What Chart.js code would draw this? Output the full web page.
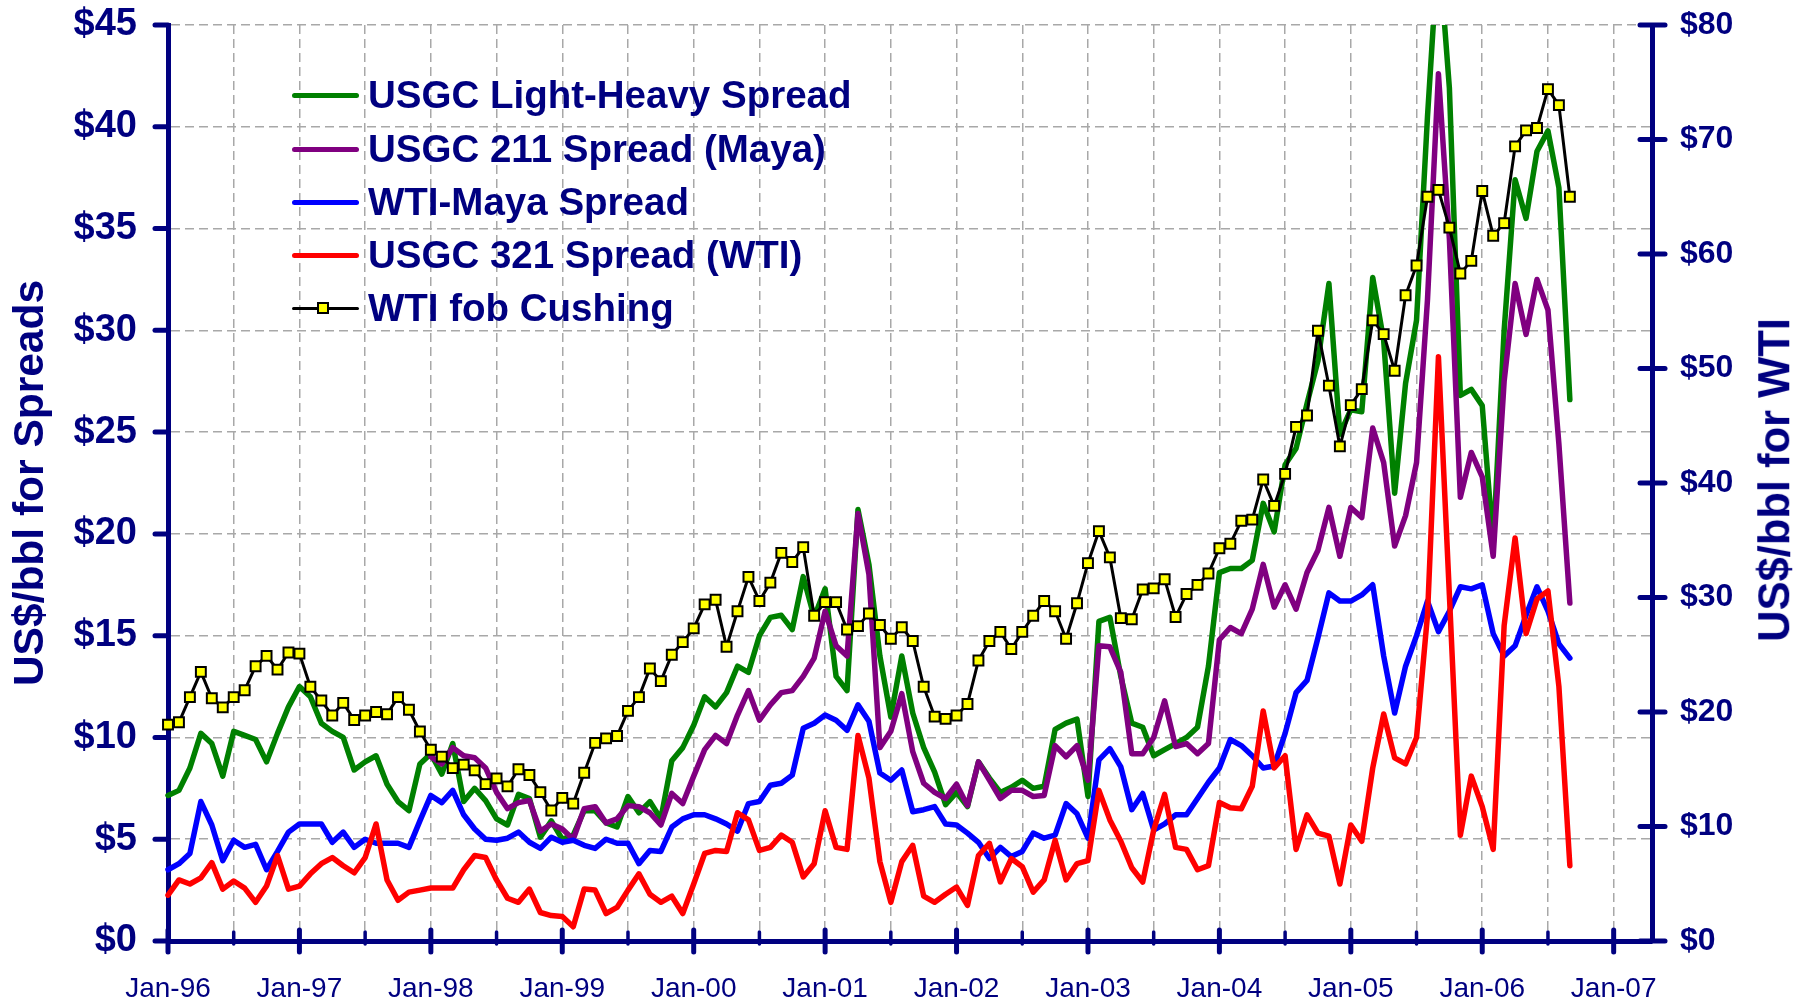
<!DOCTYPE html>
<html>
<head>
<meta charset="utf-8">
<script src="https://cdn.jsdelivr.net/npm/chart.js@4.4.1/dist/chart.umd.min.js"></script>
<style>
  html, body { margin: 0; padding: 0; background: #ffffff; }
  #wrap { position: relative; width: 1808px; height: 1003px; overflow: hidden; background: #fff; }
  #c { position: absolute; left: 0; top: 0; }
  .lrow { position: absolute; left: 292px; height: 50px; display: flex; align-items: center; white-space: nowrap;
          font-family: "Liberation Sans", Arial, sans-serif; font-weight: bold; font-size: 38.5px; color: #000080; }
  .smp { position: relative; width: 67px; height: 50px; flex: none; }
  .smp .ln { position: absolute; left: 0; width: 67px; top: 50%; }
  .smp .mk { position: absolute; box-sizing: border-box; width: 12px; height: 12px; border: 2px solid #000; background: #FFFF00; top: 50%; margin-top: -6px; left: 25px; }
  .ltxt { margin-left: 9px; line-height: 1.15; }
  #rtitle { position: absolute; left: 1775px; top: 480px; transform: translate(-50%, -50%) rotate(-90deg);
            white-space: nowrap; font-family: "Liberation Sans", Arial, sans-serif; font-weight: bold; font-size: 43.5px;
            line-height: 1; color: #000080; }
</style>
</head>
<body>
<div id="wrap">
  <canvas id="c" width="1808" height="1003"></canvas>
  <div id="legend"></div>
  <div id="rtitle">US$/bbl for WTI</div>
</div>
<script>
// ---------------- DATA (monthly, Jan-96 .. Sep-06) ----------------
const xTickLabels = ['Jan-96','Jan-97','Jan-98','Jan-99','Jan-00','Jan-01','Jan-02','Jan-03','Jan-04','Jan-05','Jan-06','Jan-07'];
const leftTicks = [0, 5, 10, 15, 20, 25, 30, 35, 40, 45];
const leftTickLabels = ['$0','$5','$10','$15','$20','$25','$30','$35','$40','$45'];
const rightTicks = [0, 10, 20, 30, 40, 50, 60, 70, 80];
const rightTickLabels = ['$0','$10','$20','$30','$40','$50','$60','$70','$80'];

const seriesNames = ['USGC Light-Heavy Spread', 'USGC 211 Spread (Maya)', 'WTI-Maya Spread', 'USGC 321 Spread (WTI)', 'WTI fob Cushing'];

// USGC Light-Heavy Spread ($/bbl, left axis)
const lightHeavy = [
  7.15, 7.4, 8.5, 10.2, 9.7, 8.1, 10.3, 10.1, 9.9, 8.8, 10.2, 11.5,
  12.5, 12.0, 10.7, 10.3, 10.0, 8.4, 8.8, 9.1, 7.7, 6.85, 6.4, 8.7,
  9.2, 8.2, 9.7, 6.85, 7.5, 6.9, 6.0, 5.7, 7.2, 7.0, 5.1, 5.9,
  5.0, 5.2, 6.4, 6.4, 5.8, 5.6, 7.1, 6.3, 6.85, 6.0, 8.85, 9.5,
  10.6, 12.0, 11.5, 12.2, 13.5, 13.2, 15.0, 15.9, 16.0, 15.3, 17.9, 15.9,
  17.3, 13.0, 12.3, 21.2, 18.5, 14.0, 11.0, 14.0, 11.2, 9.5, 8.3, 6.7,
  7.3, 6.6, 8.8, 8.0, 7.3, 7.55, 7.9, 7.5, 7.6, 10.4, 10.7, 10.9,
  7.1, 15.7, 15.9, 13.0, 10.7, 10.5, 9.1, 9.4, 9.7, 10.0, 10.5, 13.5,
  18.1, 18.3, 18.3, 18.7, 21.5, 20.1, 23.4, 24.2, 26.4, 28.5, 32.3, 24.9,
  26.1, 26.0, 32.6, 29.5, 22.0, 27.4, 30.5, 40.5, 49.0, 41.9, 26.8, 27.1,
  26.3, 19.5, 30.0, 37.4, 35.5, 38.8, 39.8, 37.0, 26.6
];

// USGC 211 Spread (Maya) ($/bbl, left axis) - series starts Jan-98
const spread211 = [
  null, null, null, null, null, null, null, null, null, null, null, null,
  null, null, null, null, null, null, null, null, null, null, null, null,
  9.05, 8.7, 9.5, 9.1, 9.0, 8.5, 7.3, 6.5, 6.8, 6.9, 5.4, 5.75,
  5.5, 5.0, 6.5, 6.6, 5.8, 6.0, 6.65, 6.6, 6.3, 5.7, 7.25, 6.75,
  8.1, 9.4, 10.1, 9.7, 11.1, 12.3, 10.85, 11.6, 12.2, 12.3, 13.0, 13.9,
  16.2, 14.5, 14.0, 21.0, 18.0, 9.5, 10.3, 12.15, 9.3, 7.75, 7.3, 7.0,
  7.7, 6.65, 8.8, 7.9, 7.0, 7.4, 7.4, 7.1, 7.15, 9.6, 9.05, 9.6,
  7.9, 14.5, 14.45, 13.2, 9.2, 9.2, 10.0, 11.8, 9.55, 9.7, 9.2, 9.7,
  14.8, 15.4, 15.1, 16.3, 18.5, 16.4, 17.5, 16.3, 18.1, 19.2, 21.3, 18.9,
  21.3, 20.8, 25.2, 23.5, 19.4, 20.9, 23.5, 31.5, 42.6, 34.5, 21.8, 24.0,
  22.8, 18.9, 27.5, 32.3, 29.8, 32.5, 31.0, 24.4, 16.6
];

// WTI-Maya Spread ($/bbl, left axis)
const wtiMaya = [
  3.5, 3.8, 4.3, 6.85, 5.7, 3.95, 4.95, 4.6, 4.75, 3.5, 4.4, 5.35,
  5.75, 5.75, 5.75, 4.85, 5.35, 4.6, 5.0, 4.8, 4.8, 4.8, 4.6, 5.9,
  7.15, 6.8, 7.4, 6.2, 5.5, 5.0, 4.95, 5.05, 5.35, 4.85, 4.55, 5.1,
  4.85, 4.95, 4.7, 4.55, 5.0, 4.8, 4.8, 3.8, 4.45, 4.4, 5.6, 6.0,
  6.2, 6.2, 6.0, 5.75, 5.4, 6.75, 6.85, 7.65, 7.75, 8.15, 10.45, 10.7,
  11.1, 10.85, 10.35, 11.6, 10.8, 8.25, 7.9, 8.4, 6.35, 6.45, 6.6, 5.75,
  5.7, 5.3, 4.85, 4.05, 4.6, 4.15, 4.4, 5.3, 5.05, 5.2, 6.75, 6.25,
  5.05, 8.9, 9.45, 8.55, 6.45, 7.25, 5.45, 5.75, 6.2, 6.2, 7.0, 7.8,
  8.5, 9.9, 9.6, 9.1, 8.5, 8.6, 10.2, 12.2, 12.8, 14.9, 17.1, 16.7,
  16.7, 17.0, 17.5, 14.0, 11.2, 13.5, 15.0, 16.7, 15.2, 16.2, 17.4, 17.3,
  17.5, 15.1, 14.0, 14.5, 16.0, 17.4, 16.2, 14.6, 13.9
];

// USGC 321 Spread (WTI) ($/bbl, left axis)
const spread321 = [
  2.25, 3.0, 2.8, 3.1, 3.85, 2.55, 2.95, 2.6, 1.9, 2.7, 4.2, 2.55,
  2.7, 3.3, 3.8, 4.1, 3.7, 3.35, 4.1, 5.75, 3.0, 2.0, 2.4, 2.5,
  2.6, 2.6, 2.6, 3.5, 4.2, 4.1, 3.0, 2.1, 1.9, 2.55, 1.4, 1.25,
  1.2, 0.7, 2.55, 2.5, 1.35, 1.65, 2.5, 3.3, 2.3, 1.9, 2.2, 1.35,
  2.8, 4.3, 4.45, 4.4, 6.3, 5.95, 4.45, 4.6, 5.2, 4.85, 3.15, 3.8,
  6.4, 4.6, 4.5, 10.1, 8.0, 3.9, 1.9, 3.9, 4.7, 2.2, 1.9, 2.3,
  2.65, 1.75, 4.2, 4.8, 2.9, 4.05, 3.65, 2.4, 3.0, 4.95, 3.0, 3.8,
  3.95, 7.4, 5.95, 4.9, 3.6, 2.9, 5.45, 7.2, 4.6, 4.5, 3.5, 3.7,
  6.8, 6.55, 6.5, 7.6, 11.3, 8.5, 9.1, 4.5, 6.2, 5.3, 5.15, 2.8,
  5.7, 4.9, 8.5, 11.15, 9.0, 8.7, 10.0, 16.0, 28.7, 17.0, 5.2, 8.1,
  6.6, 4.5, 15.5, 19.8, 15.1, 16.8, 17.2, 12.5, 3.7
];

// WTI fob Cushing ($/bbl, right axis)
const wtiCushing = [
  18.9, 19.1, 21.3, 23.5, 21.2, 20.4, 21.3, 21.9, 24.0, 24.9, 23.7, 25.2,
  25.1, 22.2, 21.0, 19.7, 20.8, 19.3, 19.7, 20.0, 19.8, 21.3, 20.2, 18.3,
  16.7, 16.1, 15.1, 15.4, 14.9, 13.7, 14.2, 13.5, 15.0, 14.5, 13.0, 11.4,
  12.5, 12.0, 14.7, 17.3, 17.7, 17.9, 20.1, 21.3, 23.8, 22.7, 25.0, 26.1,
  27.3, 29.4, 29.8, 25.7, 28.8, 31.8, 29.7, 31.3, 33.9, 33.1, 34.4, 28.4,
  29.6, 29.6, 27.2, 27.5, 28.6, 27.6, 26.4, 27.4, 26.2, 22.2, 19.6, 19.4,
  19.7, 20.7, 24.5, 26.2, 27.0, 25.5, 27.0, 28.4, 29.7, 28.8, 26.4, 29.5,
  33.0, 35.8, 33.5, 28.2, 28.1, 30.7, 30.8, 31.6, 28.3, 30.3, 31.1, 32.1,
  34.3, 34.7, 36.7, 36.8, 40.3, 38.0, 40.8, 44.9, 45.9, 53.3, 48.5, 43.2,
  46.8, 48.2, 54.2, 53.0, 49.8, 56.4, 59.0, 65.0, 65.6, 62.3, 58.3, 59.4,
  65.5, 61.6, 62.7, 69.4, 70.8, 71.0, 74.4, 73.0, 65.0
];

// ---------------- STYLE ----------------
const NAVY = '#000080';
const FONT = '"Liberation Sans", Arial, Helvetica, sans-serif';
const GRID = '#a8a8a8';
const X_MAX = 135.5;                         // axis ends ~mid-May 2007
const xGridMonths = [];
for (let m = 0; m <= 132; m += 6) xGridMonths.push(m);

Chart.defaults.font.family = FONT;

const toXY = arr => arr.map((v, i) => ({ x: i, y: v }));

const lineStyle = (label, data, color, order) => ({
  label, data: toXY(data), borderColor: color, backgroundColor: color,
  borderWidth: 5.5, pointRadius: 0, tension: 0, yAxisID: 'y', order,
  borderJoinStyle: 'round', borderCapStyle: 'round', spanGaps: false,
  clip: { left: 6, right: 6, top: 0, bottom: 6 }
});

const datasets = [
  lineStyle(seriesNames[0], lightHeavy, '#008000', 4),
  lineStyle(seriesNames[1], spread211, '#800080', 3),
  lineStyle(seriesNames[2], wtiMaya, '#0000FF', 2),
  lineStyle(seriesNames[3], spread321, '#FF0000', 1),
  {
    label: seriesNames[4], data: toXY(wtiCushing), yAxisID: 'y2', order: 0,
    borderColor: '#000000', borderWidth: 3, tension: 0,
    pointStyle: 'rect', pointRadius: 7, pointBorderWidth: 2,
    pointBackgroundColor: '#FFFF00', pointBorderColor: '#000000',
    borderJoinStyle: 'round', clip: { left: 10, right: 10, top: 10, bottom: 10 }
  }
];

// tick marks in Excel style (outside on left, crossing on right and bottom)
const axisTicks = {
  id: 'axisTicks',
  afterDraw(chart) {
    const { ctx, chartArea: a, scales } = chart;
    const seg = (x1, y1, x2, y2) => { ctx.beginPath(); ctx.moveTo(x1, y1); ctx.lineTo(x2, y2); ctx.stroke(); };
    ctx.save();
    ctx.strokeStyle = NAVY;
    ctx.lineCap = 'round';
    ctx.lineWidth = 5;
    scales.y.ticks.forEach(t => { const y = scales.y.getPixelForValue(t.value); seg(a.left - 13, y, a.left, y); });
    scales.y2.ticks.forEach(t => { const y = scales.y2.getPixelForValue(t.value); seg(a.right - 12, y, a.right + 13, y); });
    scales.x.ticks.forEach(t => {
      const px = scales.x.getPixelForValue(t.value);
      const major = t.value % 12 === 0;
      ctx.lineWidth = major ? 5 : 3.5;
      if (major) seg(px, a.bottom - 11, px, a.bottom + 11);
      else seg(px, a.bottom - 9, px, a.bottom + 3);
    });
    ctx.restore();
  }
};

new Chart(document.getElementById('c'), {
  type: 'line',
  data: { datasets },
  plugins: [axisTicks],
  options: {
    responsive: false,
    animation: false,
    devicePixelRatio: 1,
    events: [],
    layout: { padding: { top: 25, left: 0, right: 0, bottom: 0 } },
    plugins: { legend: { display: false }, tooltip: { enabled: false }, title: { display: false } },
    scales: {
      x: {
        type: 'linear', position: 'bottom', min: 0, max: X_MAX,
        afterBuildTicks: s => { s.ticks = xGridMonths.map(v => ({ value: v })); },
        afterFit: s => { s.height = 62; },
        grid: { color: GRID, lineWidth: 1.5, drawTicks: true, tickLength: 31, tickColor: 'rgba(0,0,0,0)' },
        border: { display: true, color: NAVY, width: 5, dash: [9, 5] },
        ticks: {
          autoSkip: false, maxRotation: 0, minRotation: 0, padding: 0,
          color: NAVY, font: { size: 28, weight: 'normal' },
          callback: v => (v % 12 === 0 ? xTickLabels[v / 12] : '')
        }
      },
      y: {
        type: 'linear', position: 'left', min: 0, max: 45,
        afterBuildTicks: s => { s.ticks = leftTicks.map(v => ({ value: v })); },
        afterFit: s => { s.width = 168; },
        grid: { color: GRID, lineWidth: 1.5, drawTicks: true, tickLength: 31, tickColor: 'rgba(0,0,0,0)' },
        border: { display: true, color: NAVY, width: 5, dash: [9, 5] },
        ticks: {
          padding: 0, color: NAVY, font: { size: 38, weight: 'bold' },
          callback: v => leftTickLabels[leftTicks.indexOf(v)]
        },
        title: {
          display: true, text: 'US$/bbl for Spreads', color: NAVY,
          font: { size: 42.5, weight: 'bold' }, padding: { top: 6, bottom: 0 }
        }
      },
      y2: {
        type: 'linear', position: 'right', min: 0, max: 80,
        afterBuildTicks: s => { s.ticks = rightTicks.map(v => ({ value: v })); },
        afterFit: s => { s.width = 156; },
        grid: { drawOnChartArea: false, drawTicks: true, tickLength: 28, tickColor: 'rgba(0,0,0,0)' },
        border: { display: true, color: NAVY, width: 5 },
        ticks: {
          padding: 0, color: NAVY, font: { size: 32, weight: 'bold' },
          callback: v => rightTickLabels[rightTicks.indexOf(v)]
        }
      }
    }
  }
});

// ---------------- HTML legend (inside plot, top-left) ----------------
const legendRowsY = [95, 149, 202, 255, 308];
const legendEl = document.getElementById('legend');
datasets.forEach((ds, i) => {
  const row = document.createElement('div');
  row.className = 'lrow';
  row.style.top = (legendRowsY[i] - 25) + 'px';
  const smp = document.createElement('span');
  smp.className = 'smp';
  const ln = document.createElement('span');
  ln.className = 'ln';
  const w = i === 4 ? 3 : 5;
  ln.style.height = w + 'px';
  ln.style.marginTop = (-w / 2) + 'px';
  ln.style.borderRadius = (w / 2) + 'px';
  ln.style.background = ds.borderColor;
  smp.appendChild(ln);
  if (i === 4) { const mk = document.createElement('span'); mk.className = 'mk'; smp.appendChild(mk); }
  const txt = document.createElement('span');
  txt.className = 'ltxt';
  txt.textContent = ds.label;
  row.appendChild(smp);
  row.appendChild(txt);
  legendEl.appendChild(row);
});
</script>
</body>
</html>
